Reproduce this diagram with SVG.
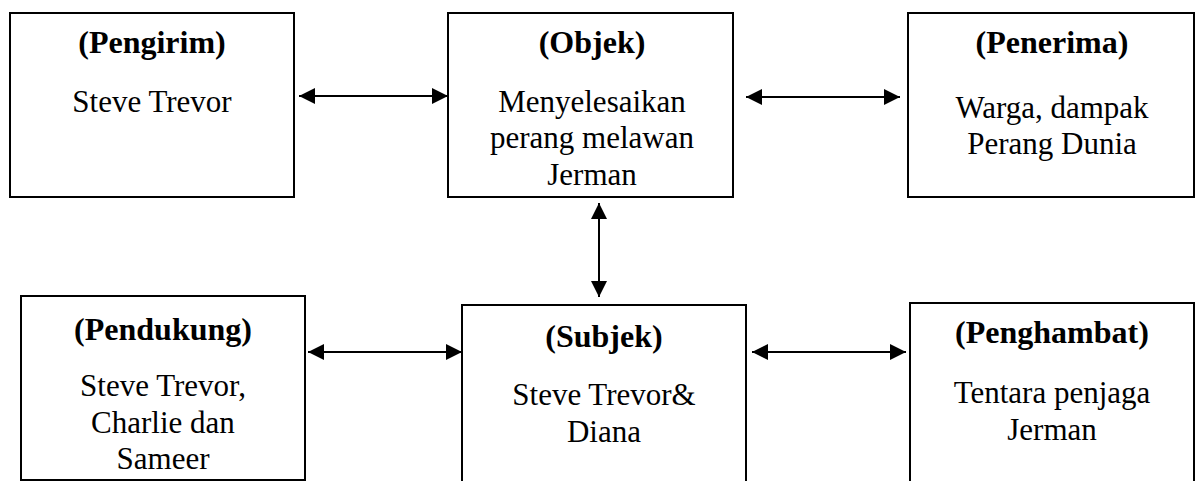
<svg xmlns="http://www.w3.org/2000/svg" width="1196" height="481" viewBox="0 0 1196 481">
<style>
.box{fill:#fff;stroke:#000;stroke-width:2}
.t{font-family:"Liberation Serif","Times New Roman",serif;font-weight:bold;font-size:32px;text-anchor:middle;fill:#000}
.b{font-family:"Liberation Serif","Times New Roman",serif;font-size:31px;text-anchor:middle;fill:#000}
.c{stroke:#000;stroke-width:2;fill:none;marker-start:url(#ah);marker-end:url(#ah)}
</style>
<defs>
<marker id="ah" viewBox="0 0 16 16" refX="16" refY="8" markerWidth="16" markerHeight="16" markerUnits="userSpaceOnUse" orient="auto-start-reverse">
<path d="M0,0 L16,8 L0,16 Z" fill="#000"/>
</marker>
</defs>
<rect width="1196" height="481" fill="#fff"/>
<g id="pengirim">
<rect class="box" x="10" y="13" width="284" height="184"/>
<text class="t" x="152" y="53">(Pengirim)</text>
<text class="b" x="152" y="112">Steve Trevor</text>
</g>
<g id="objek">
<rect class="box" x="448" y="13" width="285" height="184"/>
<text class="t" x="592" y="53">(Objek)</text>
<text class="b" x="592" y="112">Menyelesaikan</text>
<text class="b" x="592" y="148">perang melawan</text>
<text class="b" x="592" y="185">Jerman</text>
</g>
<g id="penerima">
<rect class="box" x="908" y="13" width="286" height="184"/>
<text class="t" x="1052" y="53">(Penerima)</text>
<text class="b" x="1052" y="118">Warga, dampak</text>
<text class="b" x="1052" y="154">Perang Dunia</text>
</g>
<g id="pendukung">
<rect class="box" x="21" y="296" width="284" height="184"/>
<text class="t" x="163" y="340">(Pendukung)</text>
<text class="b" x="163" y="396">Steve Trevor,</text>
<text class="b" x="163" y="433">Charlie dan</text>
<text class="b" x="163" y="469">Sameer</text>
</g>
<g id="subjek">
<rect class="box" x="462" y="305" width="284" height="190"/>
<text class="t" x="604" y="347">(Subjek)</text>
<text class="b" x="604" y="405">Steve Trevor&amp;</text>
<text class="b" x="604" y="442">Diana</text>
</g>
<g id="penghambat">
<rect class="box" x="910" y="303" width="284" height="190"/>
<text class="t" x="1052" y="343">(Penghambat)</text>
<text class="b" x="1052" y="403">Tentara penjaga</text>
<text class="b" x="1052" y="440">Jerman</text>
</g>
<g id="connectors">
<line class="c" x1="299" y1="96" x2="448" y2="96"/>
<line class="c" x1="746" y1="97" x2="900" y2="97"/>
<line class="c" x1="599" y1="203" x2="599" y2="297"/>
<line class="c" x1="308" y1="352" x2="462" y2="352"/>
<line class="c" x1="752" y1="352" x2="906" y2="352"/>
</g>
</svg>
